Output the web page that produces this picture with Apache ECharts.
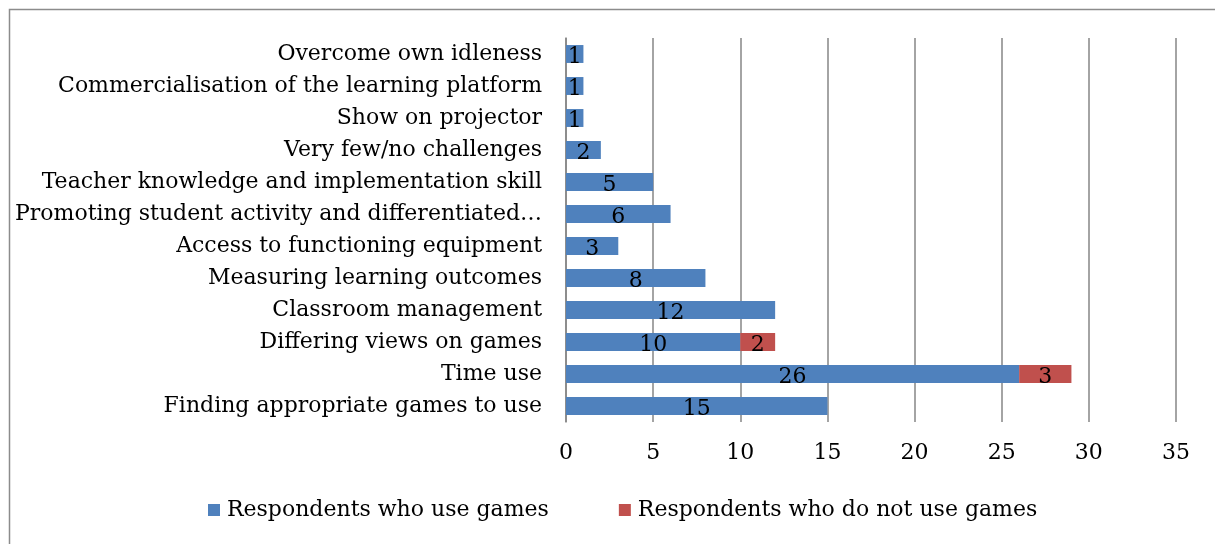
<!DOCTYPE html>
<html>
<head>
<meta charset="utf-8">
<script src="https://cdn.jsdelivr.net/npm/echarts@6/dist/echarts.min.js"></script>
<style>
  html, body { margin: 0; padding: 0; background: #fff; }
  #chart { width: 1215px; height: 544px; }
</style>
</head>
<body>
<div id="chart"></div>
<script>
// Challenges, listed bottom to top as drawn on the category axis
const categories = [
  'Finding appropriate games to use',
  'Time use',
  'Differing views on games',
  'Classroom management',
  'Measuring learning outcomes',
  'Access to functioning equipment',
  'Promoting student activity and differentiated…',
  'Teacher knowledge and implementation skill',
  'Very few/no challenges',
  'Show on projector',
  'Commercialisation of the learning platform',
  'Overcome own idleness'
];
const useGames    = [15, 26, 10, 12, 8, 3, 6, 5, 2, 1, 1, 1];
const notUseGames = [null, 3, 2, null, null, null, null, null, null, null, null, null];
const xTicks = [0, 5, 10, 15, 20, 25, 30, 35];

const FONT = 'DejaVu Serif';
const FS = 22;
const chart = echarts.init(document.getElementById('chart'));

const labelStyle = {
  show: true,
  position: 'inside',
  offset: [0, 3],
  color: '#000',
  fontFamily: FONT,
  fontSize: FS
};

chart.setOption({
  animation: false,
  textStyle: { fontFamily: FONT },
  graphic: [{
    type: 'rect',
    shape: { x: 9.5, y: 9.5, width: 1400, height: 800 },
    style: { fill: 'none', stroke: '#8c8c8c', lineWidth: 1.5 },
    silent: true
  }],
  grid: { left: 566, right: 39, top: 38, bottom: 122, containLabel: false },
  legend: {
    bottom: 18,
    left: 203,
    itemWidth: 12,
    itemHeight: 12,
    itemGap: 70,
    icon: 'rect',
    textStyle: { fontFamily: FONT, fontSize: FS, color: '#000', padding: [0, 0, 0, 2] },
    data: ['Respondents who use games', 'Respondents who do not use games']
  },
  xAxis: {
    type: 'value',
    min: xTicks[0],
    max: xTicks[xTicks.length - 1],
    interval: 5,
    axisLine: { show: false },
    axisTick: { show: false },
    axisLabel: { color: '#000', fontFamily: FONT, fontSize: FS, margin: 20 },
    splitLine: { show: true, lineStyle: { color: '#868686', width: 1.5 } }
  },
  yAxis: {
    type: 'category',
    data: categories,
    axisLine: { show: true, lineStyle: { color: '#868686', width: 1.5 } },
    axisTick: { show: false },
    axisLabel: { color: '#000', fontFamily: FONT, fontSize: FS, margin: 24 }
  },
  series: [
    {
      name: 'Respondents who use games',
      type: 'bar',
      stack: 'total',
      data: useGames,
      barCategoryGap: '44%',
      itemStyle: { color: '#4F81BD' },
      label: labelStyle
    },
    {
      name: 'Respondents who do not use games',
      type: 'bar',
      stack: 'total',
      data: notUseGames,
      barCategoryGap: '44%',
      itemStyle: { color: '#C0504D' },
      label: labelStyle
    }
  ]
});
</script>
</body>
</html>
